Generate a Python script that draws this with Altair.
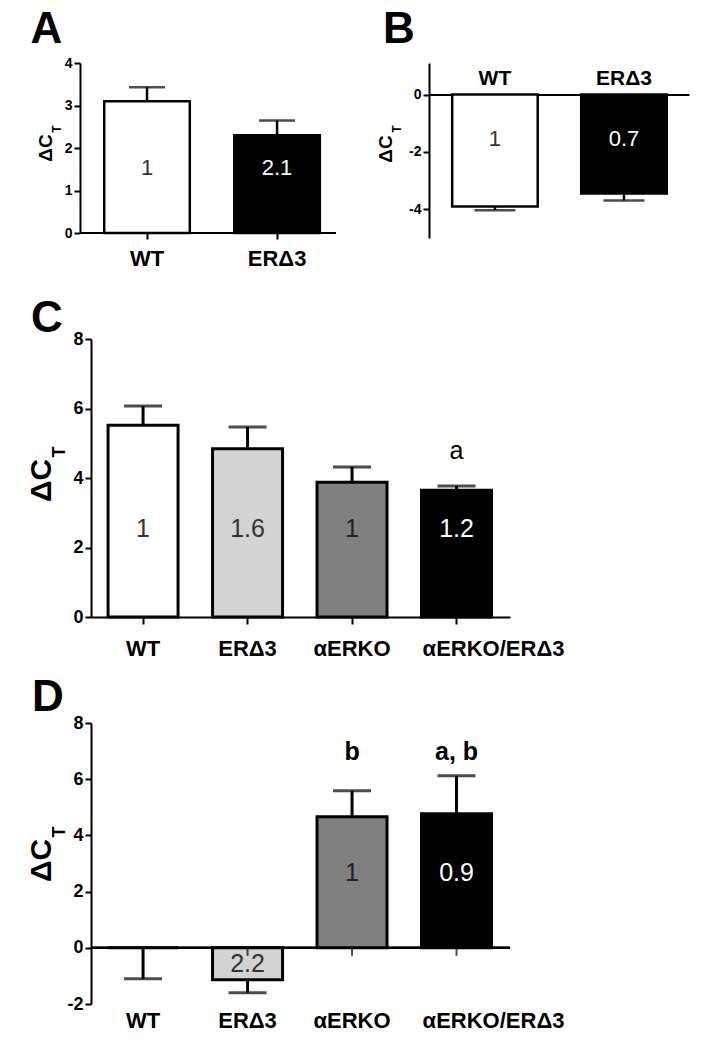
import altair as alt
import pandas as pd

FONT = "Liberation Sans"

# ---------------- data ----------------
groups2 = ["WT", "ERΔ3"]
groups4 = ["WT", "ERΔ3", "αERKO", "αERKO/ERΔ3"]

a_mean = [3.1, 2.3]
a_sem = [0.33, 0.35]
a_fold = ["1", "2.1"]

b_mean = [-3.9, -3.45]
b_sem = [0.13, 0.24]
b_fold = ["1", "0.7"]

c_mean = [5.52, 4.84, 3.88, 3.65]
c_sem = [0.55, 0.63, 0.44, 0.12]
c_fold = ["1", "1.6", "1", "1.2"]
c_sig = ["", "", "", "a"]

d_mean = [0.0, -1.14, 4.66, 4.77]
d_sem = [1.1, 0.46, 0.93, 1.35]
d_fold = ["", "2.2", "1", "0.9"]
d_sig = ["", "", "b", "a, b"]

fill2 = ["#ffffff", "#000000"]
fill4 = ["#ffffff", "#d3d3d3", "#808080", "#000000"]
text2 = ["#333333", "#ffffff"]
text4 = ["#333333", "#333333", "#222222", "#ffffff"]


def make_df(groups, mean, sem, fold, fills, tcols, sig, lab_pos, lab_neg, sig_level):
    rows = []
    for i, g in enumerate(groups):
        m = mean[i]
        err = m + sem[i] if m > 0 else m - sem[i]
        rows.append(dict(grp=g, mean=m, err=err, fold=fold[i], fill=fills[i],
                         tcol=tcols[i], lab=lab_pos if m > 0 else lab_neg,
                         sig=sig[i] if sig else "", sig_y=sig_level))
    return pd.DataFrame(rows)


one = pd.DataFrame({"k": [0]})


def note(text, x, y, size, angle=0, bold=True):
    return alt.Chart(one).mark_text(
        font=FONT, fontSize=size, fontWeight="bold" if bold else "normal",
        angle=angle, align="center", baseline="middle", color="black"
    ).encode(x=alt.value(x), y=alt.value(y), text=alt.value(text))


LAST_SHIFT = {"condition": {"test": "datum.value === 'αERKO/ERΔ3'", "value": 37}, "value": 0}


def panel(df, groups, *, w, h, ydom, yticks, pi, po, al, sw, cap, tickfs, valfs,
          xfs, xpad, xtick, mode, notes, sigfs=25, sigbold=False, xoffset=0,
          yoffset=0, shift_last=False):
    xs = alt.Scale(domain=groups, paddingInner=pi, paddingOuter=po, align=al)
    ys = alt.Scale(domain=ydom, nice=False, zero=False)
    common = dict(title=None, labelAngle=0, labelFont=FONT, labelFontSize=xfs,
                  labelFontWeight="bold", labelColor="black", labelPadding=xpad)
    if shift_last:
        common["labelOffset"] = LAST_SHIFT
    if mode == "bottom":
        xaxis = alt.Axis(orient="bottom", domainColor="black", domainWidth=2,
                         tickColor="black", tickWidth=2, tickSize=xtick, **common)
    elif mode == "bottom_ext":
        xaxis = alt.Axis(orient="bottom", domain=False,
                         tickColor="black", tickWidth=2, tickSize=xtick, **common)
    elif mode == "top":
        xaxis = alt.Axis(orient="top", offset=xoffset, domainColor="black",
                         domainWidth=2, ticks=False, tickSize=0, **common)
    else:
        xaxis = alt.Axis(orient="bottom", domain=False, ticks=False, tickSize=0, **common)
    yaxis = alt.Axis(title=None, values=yticks, labelExpr="'' + datum.value",
                     labelFont=FONT, labelFontSize=tickfs, labelFontWeight="bold",
                     labelColor="black", labelPadding=2, domainColor="black",
                     domainWidth=2, tickColor="black", tickWidth=2, tickSize=6,
                     grid=False, offset=yoffset)
    X = alt.X("grp:N", sort=groups, scale=xs, axis=xaxis)

    def Y(f):
        return alt.Y(f, scale=ys, axis=yaxis)

    base = alt.Chart(df)
    layers = []
    if mode == "zero":
        layers.append(base.mark_rule(color="black", strokeWidth=2).encode(
            y=alt.datum(0), x=alt.value(0), x2=alt.value(w)))
    if mode == "bottom_ext":
        layers.append(base.mark_rule(color="black", strokeWidth=2).encode(
            y=alt.datum(ydom[0]), x=alt.value(-yoffset), x2=alt.value(w)))
    layers += [
        base.mark_bar(stroke="black", strokeWidth=sw).encode(
            x=X, y=Y("mean:Q"), fill=alt.Fill("fill:N", scale=None)),
        base.mark_rule(color="black", strokeWidth=sw).encode(
            x=X, y=Y("err:Q"), y2="mean:Q"),
        base.mark_tick(color="black", thickness=sw, size=cap, orient="horizontal").encode(
            x=X, y=Y("err:Q")),
    ]
    if mode == "zero":
        layers.append(base.mark_tick(color="black", thickness=2, size=8,
                                     orient="vertical", yOffset=4).encode(
            x=X, y=alt.datum(0)))
    layers += [
        base.mark_text(font=FONT, fontSize=valfs, align="center", baseline="middle").encode(
            x=X, y=Y("lab:Q"), text="fold:N", color=alt.Color("tcol:N", scale=None)),
        base.mark_text(font=FONT, fontSize=sigfs, fontWeight="bold" if sigbold else "normal",
                       align="center", baseline="middle", color="black").encode(
            x=X, y=Y("sig_y:Q"), text="sig:N"),
    ]
    layers += notes
    return alt.layer(*layers).properties(width=w, height=h)


dfA = make_df(groups2, a_mean, a_sem, a_fold, fill2, text2, None, 1.52, -1.0, 0)
dfB = make_df(groups2, b_mean, b_sem, b_fold, fill2, text2, None, 1.0, -1.56, 0)
dfC = make_df(groups4, c_mean, c_sem, c_fold, fill4, text4, c_sig, 2.52, -0.5, 4.78)
dfD = make_df(groups4, d_mean, d_sem, d_fold, fill4, text4, d_sig, 2.65, -0.59, 6.96)

A = panel(dfA, groups2, w=245, h=170, ydom=[0, 4], yticks=[0, 1, 2, 3, 4],
          pi=0.342, po=0.113, al=0.45, sw=2.5, cap=36, tickfs=14, valfs=22,
          xfs=22, xpad=9.4, xtick=6, mode="bottom_ext", yoffset=11,
          notes=[note("A", -44.5, -33, 44),
                 note("ΔC", -45.5, 85, 19, angle=270),
                 note("T", -34.3, 66, 12, angle=270)])

B = panel(dfB, groups2, w=260, h=175, ydom=[-5, 1.1], yticks=[0, -2, -4],
          pi=0.337, po=0.176, al=0.51, sw=2.5, cap=41, tickfs=14, valfs=22,
          xfs=21, xpad=6.6, xtick=0, mode="top", xoffset=-31.6,
          notes=[note("B", -30, -33, 44),
                 note("ΔC", -43.5, 86, 19, angle=270),
                 note("T", -32.3, 66, 12, angle=270)])

C = panel(dfC, groups4, w=419, h=278, ydom=[0, 8], yticks=[0, 2, 4, 6, 8],
          pi=0.33, po=0.17, al=0.48, sw=3, cap=38, tickfs=18, valfs=25,
          xfs=22, xpad=14.4, xtick=7, mode="bottom", sigfs=25, sigbold=False,
          shift_last=True,
          notes=[note("C", -44, -20, 44),
                 note("ΔC", -49.3, 141.5, 30, angle=270),
                 note("T", -31, 113, 18, angle=270)])

D = panel(dfD, groups4, w=419, h=281, ydom=[-2, 8], yticks=[-2, 0, 2, 4, 6, 8],
          pi=0.33, po=0.17, al=0.48, sw=3, cap=38, tickfs=18, valfs=25,
          xfs=22, xpad=6.4, xtick=0, mode="zero", sigfs=25, sigbold=True,
          shift_last=True,
          notes=[note("D", -43, -25, 44),
                 note("ΔC", -49.3, 137.5, 30, angle=270),
                 note("T", -31, 109, 18, angle=270)])

left = alt.vconcat(A, C, D, spacing=106, bounds="flush")

chart = alt.hconcat(left, B, spacing=338, bounds="flush").properties(
    padding={"left": 18, "top": 0, "right": 5, "bottom": 5}
).configure_view(stroke=None)

chart.save("out.html", embed_options={"renderer": "svg", "actions": False})
